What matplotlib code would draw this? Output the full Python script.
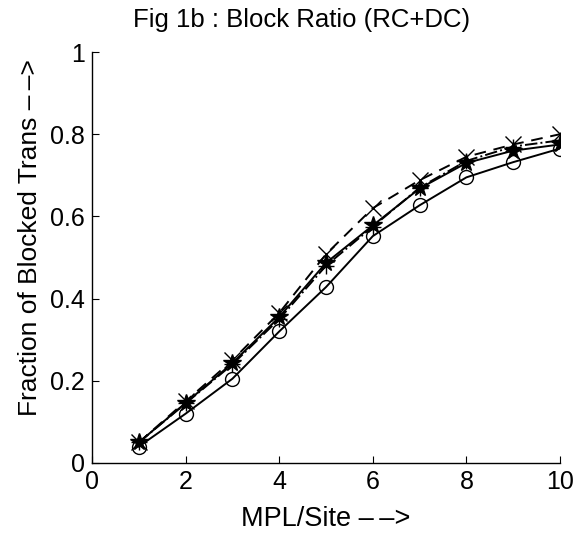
import matplotlib
matplotlib.use("Agg")
import matplotlib.pyplot as plt

plt.rcParams['font.family'] = ['Liberation Sans', 'DejaVu Sans']

x = [1, 2, 3, 4, 5, 6, 7, 8, 9, 10]
circ = [0.04, 0.12, 0.205, 0.32, 0.428, 0.552, 0.627, 0.695, 0.732, 0.765]
star = [0.05, 0.146, 0.243, 0.355, 0.487, 0.578, 0.668, 0.73, 0.76, 0.775]
xmark = [0.05, 0.15, 0.25, 0.365, 0.508, 0.62, 0.688, 0.745, 0.775, 0.80]
plus = [0.05, 0.145, 0.24, 0.35, 0.48, 0.575, 0.67, 0.735, 0.77, 0.785]

xticks = [0, 2, 4, 6, 8, 10]
yticks = [0, 0.2, 0.4, 0.6, 0.8, 1]
yticklabels = ['0', '0.2', '0.4', '0.6', '0.8', '1']

W, H = 580, 535
fig = plt.figure(figsize=(W / 100, H / 100), dpi=100)
ax = fig.add_axes([92 / W, 1 - 463 / H, 468 / W, 411 / H])

ax.plot(x, circ, 'k-', marker='o', markersize=10, markerfacecolor='none', linewidth=1.4)
ax.plot(x, star, 'k-', marker='*', markersize=13, linewidth=1.4)
ax.plot(x, xmark, 'k--', marker='x', markersize=11, linewidth=1.4, dashes=(6, 4))
ax.plot(x, plus, 'k-.', marker='+', markersize=12, linewidth=1.4)

ax.set_xlim(0, 10)
ax.set_ylim(0, 1)
ax.set_xticks(xticks)
ax.set_yticks(yticks)
ax.set_yticklabels(yticklabels)
ax.tick_params(direction='in', length=5, labelsize=18, pad=5)
for s in ['top', 'right']:
    ax.spines[s].set_visible(False)
for s in ['left', 'bottom']:
    ax.spines[s].set_linewidth(1.0)

arrow = '\u2013\u2009\u2013>'
fig.text(302 / W, 1 - 20 / H, 'Fig 1b : Block Ratio (RC+DC)', fontsize=18.5,
         ha='center', va='center')
fig.text(326 / W, 1 - 519 / H, 'MPL/Site ' + arrow, fontsize=19.5,
         ha='center', va='center')
fig.text(30 / W, 1 - 238 / H, 'Fraction of Blocked Trans ' + arrow, fontsize=19,
         ha='center', va='center', rotation=90)

fig.savefig('out.png', dpi=100)
